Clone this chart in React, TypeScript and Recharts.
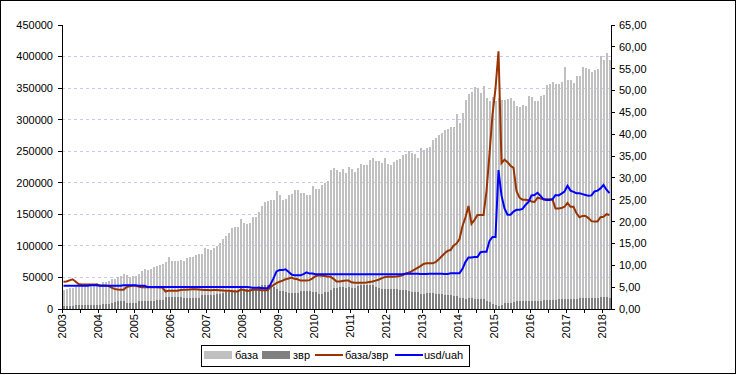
import React from "react";
import { ComposedChart, Bar, Line, XAxis, YAxis, CartesianGrid } from "recharts";

const FONT = '"Liberation Sans", Arial, sans-serif';

const YEARS = ["2003", "2004", "2005", "2006", "2007", "2008", "2009", "2010", "2011", "2012", "2013", "2014", "2015", "2016", "2017", "2018"];
const MONTHS_IN_2018 = 3;

// база
const baza = [
  30000, 31500, 33000, 33500, 34500, 35000, 36000, 36500, 37500, 38000, 38500, 40500,
  40000, 42000, 43500, 45000, 47000, 48000, 50000, 52000, 55000, 54000, 51000, 53000,
  52000, 56000, 61000, 63000, 62000, 64000, 66500, 68000, 70000, 71000, 74000, 83000,
  76000, 76000, 76000, 78000, 76000, 80500, 82000, 82500, 85500, 87000, 87000, 97000,
  95000, 94000, 97000, 100000, 105000, 111000, 116000, 120600, 128500, 130000, 130000, 143000,
  136500, 135000, 136500, 146000, 146000, 154000, 163500, 170000, 171000, 173000, 173000, 187000,
  181000, 173000, 174600, 181000, 182500, 189000, 189000, 184000, 184000, 181000, 181000, 195000,
  190000, 190000, 197000, 200000, 203000, 220600, 223800, 220000, 217000, 222000, 216000, 225000,
  222000, 217000, 223800, 230000, 228500, 228500, 236500, 239600, 235000, 235000, 231700, 239600,
  230000, 228500, 233000, 236500, 238000, 244000, 246000, 250700, 247500, 246000, 239600, 255500,
  252600, 255800, 257400, 268500, 271700, 276400, 279600, 284400, 286000, 289000, 289000, 308200,
  295500, 309800, 330500, 340000, 343200, 351100, 349500, 341600, 352700, 333600, 328900, 335200,
  328900, 333600, 330500, 330500, 332000, 333600, 328900, 321000, 319300, 322500, 321000, 336800,
  335200, 328900, 328900, 336800, 338400, 354300, 355900, 359100, 355900, 355900, 359100, 382900,
  362200, 362200, 357500, 368600, 368600, 382900, 381300, 379700, 375000, 378100, 379700, 400400,
  394000, 405100, 394000,
];

// звр
const zvr = [
  4600, 4800, 4800, 5000, 6000, 6200, 6300, 6300, 6300, 6300, 6300, 6800,
  6800, 8000, 8000, 8200, 10000, 10300, 12500, 12800, 12700, 9800, 9500, 9500,
  9500, 12000, 12700, 12700, 12700, 12700, 12700, 14300, 14300, 14300, 19000, 19400,
  19000, 19000, 19000, 19000, 17500, 17500, 17500, 17500, 17500, 17500, 22000, 22300,
  22000, 22300, 22500, 24000, 24500, 26000, 26500, 27000, 28000, 30000, 30000, 32500,
  30500, 31000, 31500, 33000, 33500, 36000, 37500, 38000, 38000, 37500, 34500, 31500,
  28500, 28000, 27000, 25500, 25000, 25000, 25500, 28000, 29000, 28500, 28000, 26500,
  26400, 24000, 24500, 26400, 26400, 30000, 33000, 33800, 35000, 35000, 34000, 34600,
  33800, 34000, 36000, 38000, 38000, 38000, 38000, 38000, 35000, 33000, 31700, 31800,
  31700, 31700, 31700, 31700, 30000, 30000, 30000, 28000, 26400, 26400, 26400, 24500,
  24500, 25400, 25400, 25000, 24000, 23800, 23800, 22500, 22200, 21500, 20100, 20400,
  17500, 17000, 16500, 17000, 17000, 16400, 16400, 16000, 16400, 12000, 10500, 8000,
  6500, 5500, 6000, 9000, 9000, 9000, 10500, 12500, 12700, 12700, 12700, 13300,
  12800, 12900, 12800, 13300, 13500, 13800, 14300, 14300, 15000, 15500, 15600, 15500,
  15800, 15900, 15900, 16000, 17000, 17500, 17500, 17500, 17500, 17500, 18000, 18800,
  19000, 19000, 18000,
];

// база/звр
const bazaZvr = [
  6.25, 6.3, 6.55, 6.8, 6.3, 5.7, 5.6, 5.6, 5.6, 5.6, 5.6, 5.6,
  5.45, 5.4, 5.4, 5.3, 4.9, 4.6, 4.45, 4.4, 4.4, 5.0, 5.2, 5.3,
  5.3, 5.15, 4.95, 4.95, 4.95, 4.95, 4.95, 4.95, 4.9, 4.9, 4.0, 4.2,
  4.2, 4.2, 4.2, 4.35, 4.4, 4.4, 4.45, 4.5, 4.5, 4.45, 4.4, 4.35,
  4.35, 4.3, 4.35, 4.35, 4.3, 4.25, 4.2, 4.2, 4.1, 4.0, 4.0, 4.4,
  4.4, 4.2, 4.2, 4.4, 4.4, 4.4, 4.3, 4.3, 4.3, 5.0, 5.5, 5.9,
  6.25, 6.5, 6.8, 7.0, 7.2, 6.9, 6.8, 6.5, 6.5, 6.5, 6.6, 7.0,
  7.5, 7.7, 7.6, 7.55, 7.45, 7.4, 6.9, 6.3, 6.3, 6.4, 6.5, 6.5,
  6.1, 6.0, 6.0, 6.0, 6.0, 6.05, 6.2, 6.3, 6.5, 6.7, 7.0, 7.3,
  7.4, 7.4, 7.4, 7.45, 7.55, 7.7, 8.1, 8.3, 8.6, 9.0, 9.4, 9.8,
  10.3, 10.45, 10.45, 10.45, 10.7, 11.3, 12.0, 12.7, 13.3, 13.5, 14.5, 15.0,
  16.0, 19.0, 21.0, 23.6, 19.5, 20.4, 21.5, 21.5, 21.5, 27.0, 35.5, 44.5,
  50.5, 59.0, 33.4, 34.2, 33.6, 32.8, 32.3, 27.0, 25.5, 25.0, 25.0, 24.9,
  24.6, 24.5, 25.5, 25.3, 25.1, 25.1, 25.1, 25.1, 23.0, 23.0, 23.1, 23.4,
  24.3, 23.4, 23.4, 21.9, 21.0, 21.3, 21.3, 20.8, 20.1, 20.0, 20.0, 21.0,
  21.1, 21.7, 21.5,
];

// usd/uah
const usdUah = [
  5.33, 5.33, 5.33, 5.33, 5.33, 5.33, 5.33, 5.33, 5.33, 5.45, 5.45, 5.45,
  5.33, 5.33, 5.33, 5.33, 5.33, 5.33, 5.33, 5.33, 5.45, 5.45, 5.45, 5.45,
  5.45, 5.33, 5.33, 5.33, 5.05, 5.05, 5.05, 5.05, 5.05, 5.05, 5.05, 5.05,
  5.05, 5.05, 5.05, 5.05, 5.05, 5.05, 5.05, 5.05, 5.05, 5.05, 5.05, 5.05,
  5.05, 5.05, 5.05, 5.05, 5.05, 5.05, 5.05, 5.05, 5.05, 5.05, 5.05, 5.05,
  5.05, 5.05, 5.0, 4.88, 4.88, 4.88, 4.8, 4.73, 4.75, 5.6, 7.0, 8.6,
  8.9, 8.9, 9.1, 8.5, 7.9, 7.7, 7.7, 7.7, 8.0, 8.4, 8.1, 8.1,
  7.95, 7.95, 7.95, 7.95, 7.95, 7.95, 7.95, 7.95, 7.95, 7.95, 7.95, 7.95,
  7.95, 7.95, 7.95, 7.95, 7.95, 7.95, 7.95, 7.95, 7.95, 7.95, 7.95, 7.95,
  7.95, 7.95, 7.95, 7.95, 7.95, 7.95, 8.05, 8.05, 8.05, 8.05, 8.05, 7.99,
  7.99, 7.99, 8.05, 8.05, 8.05, 8.05, 8.05, 7.99, 7.99, 8.2, 8.2, 8.2,
  8.2, 9.2, 10.8, 11.8, 11.8, 11.9, 11.9, 13.0, 13.1, 13.1, 15.6, 16.5,
  16.5, 31.8, 26.0, 23.0, 21.6, 21.6, 22.3, 22.7, 22.7, 22.9, 23.8, 24.5,
  26.0, 26.1, 26.6, 25.9, 25.1, 24.95, 24.95, 25.1, 26.1, 26.0, 26.4, 26.9,
  28.2, 27.1, 26.8, 26.5, 26.5, 26.3, 26.1, 25.9, 26.0, 26.9, 27.1, 27.6,
  28.4, 27.3, 26.5,
];

const LEFT_TICKS = [0, 50000, 100000, 150000, 200000, 250000, 300000, 350000, 400000, 450000];
const RIGHT_TICKS = [0, 5, 10, 15, 20, 25, 30, 35, 40, 45, 50, 55, 60, 65];
const GRID_VALUES = [50000, 100000, 150000, 200000, 250000, 300000, 350000, 400000];

const months = YEARS.flatMap((y, yi) =>
  Array.from({ length: yi === YEARS.length - 1 ? MONTHS_IN_2018 : 12 }, (_, m) => `${y}-${String(m + 1).padStart(2, "0")}`)
);

const data = months.map((m, i) => ({
  month: m,
  baza: baza[i],
  zvr: zvr[i],
  ratio: bazaZvr[i],
  usd: usdUah[i],
}));

// tick marks every half year, year labels in January
const X_TICKS = months.filter((m) => m.endsWith("-01") || m.endsWith("-07"));

const MonthTick = (props: any) => {
  const { x, y, payload } = props;
  const m = payload.value as string;
  const lx = Math.round(x - 1.5);
  const tx = lx + 4;
  const ty = y + 5;
  return (
    <g>
      <line x1={lx} x2={lx} y1={y} y2={y + 4} stroke="#000" shapeRendering="crispEdges" />
      {m.endsWith("-01") && (
        <text x={tx} y={ty} transform={`rotate(-90 ${tx} ${ty})`} textAnchor="end" fontSize={11} fontFamily={FONT} fill="#000">
          {m.slice(0, 4)}
        </text>
      )}
    </g>
  );
};

const legendItems = [
  { name: "база", kind: "box", color: "#c0c0c0", left: 2, textLeft: 33 },
  { name: "звр", kind: "box", color: "#808080", left: 60, textLeft: 91 },
  { name: "база/звр", kind: "line", color: "#993300", left: 113, textLeft: 143 },
  { name: "usd/uah", kind: "line", color: "#0000ff", left: 193, textLeft: 222 },
];

const axisTick = { fill: "#000", fontSize: 11, fontFamily: FONT };

export default function App() {
  return (
    <div style={{ position: "relative", width: 736, height: 375, background: "#fff", fontFamily: FONT }}>
      <style>{`body{margin:0} .recharts-rectangle, .recharts-cartesian-axis-line, .recharts-cartesian-axis-tick-line, .recharts-cartesian-grid line{shape-rendering:crispEdges}`}</style>
      <ComposedChart width={736} height={375} data={data} margin={{ top: 25, right: 0, bottom: 0, left: 0 }}>
        <CartesianGrid
          xAxisId="a"
          yAxisId="left"
          vertical={false}
          horizontalValues={GRID_VALUES}
          stroke="#c8c8f0"
          strokeDasharray="3 3"
        />
        <XAxis
          xAxisId="a"
          dataKey="month"
          ticks={X_TICKS}
          interval={0}
          tick={<MonthTick />}
          tickLine={false}
          tickSize={0}
          tickMargin={0}
          height={66}
          axisLine={{ stroke: "#000" }}
        />
        <XAxis xAxisId="b" dataKey="month" hide />
        <YAxis
          yAxisId="left"
          domain={[0, 450000]}
          ticks={LEFT_TICKS}
          interval={0}
          width={62}
          tickSize={4}
          tickMargin={5}
          tick={axisTick}
          axisLine={{ stroke: "#000" }}
          tickLine={{ stroke: "#000" }}
        />
        <YAxis
          yAxisId="right"
          orientation="right"
          domain={[0, 65]}
          ticks={RIGHT_TICKS}
          interval={0}
          width={125}
          tickSize={4}
          tickMargin={4}
          tick={axisTick}
          tickFormatter={(v: number) => v.toFixed(2).replace(".", ",")}
          axisLine={{ stroke: "#000" }}
          tickLine={{ stroke: "#000" }}
        />
        <Bar xAxisId="a" yAxisId="left" dataKey="baza" name="база" fill="#c0c0c0" barSize={2} isAnimationActive={false} />
        <Bar xAxisId="b" yAxisId="left" dataKey="zvr" name="звр" fill="#808080" barSize={2} isAnimationActive={false} />
        <Line xAxisId="a" yAxisId="right" type="linear" dataKey="ratio" name="база/звр" stroke="#993300" strokeWidth={2} dot={false} isAnimationActive={false} />
        <Line xAxisId="a" yAxisId="right" type="linear" dataKey="usd" name="usd/uah" stroke="#0000ff" strokeWidth={2} dot={false} isAnimationActive={false} />
      </ComposedChart>

      {/* legend box */}
      <div style={{ position: "absolute", left: 201, top: 345, width: 269, height: 22, border: "1px solid #000", boxSizing: "border-box", background: "#fff" }}>
        {legendItems.map((it) => (
          <React.Fragment key={it.name}>
            {it.kind === "box" ? (
              <div style={{ position: "absolute", left: it.left, top: 5, width: 28, height: 8, background: it.color }} />
            ) : (
              <div style={{ position: "absolute", left: it.left, top: 8, width: 28, height: 2, background: it.color }} />
            )}
            <span style={{ position: "absolute", left: it.textLeft, top: 0, lineHeight: "19px", fontSize: 11, color: "#000", whiteSpace: "nowrap" }}>
              {it.name}
            </span>
          </React.Fragment>
        ))}
      </div>

      {/* outer frame */}
      <div style={{ position: "absolute", left: 0, top: 0, width: 736, height: 374, border: "1px solid #000", boxSizing: "border-box", pointerEvents: "none" }} />
    </div>
  );
}
